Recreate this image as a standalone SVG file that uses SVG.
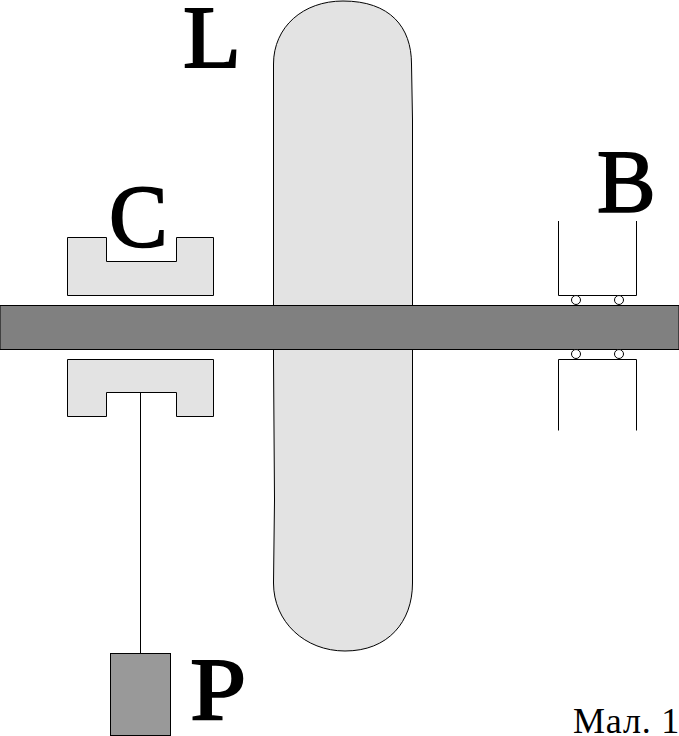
<svg xmlns="http://www.w3.org/2000/svg" width="679" height="736" viewBox="0 0 679 736">
<style>
.s{stroke:#000;stroke-width:1;}
.l{fill:#e3e3e3;}
.n{fill:none;}
.t{font-family:"Liberation Serif","Times New Roman",serif;fill:#000;}
.big{font-size:88px;stroke:#000;stroke-width:1.800;}
</style>
<rect width="679" height="736" fill="#fff"/>
<g id="lens"><path class="s l" d="M273.500 64C273.500 27 303 1 343 1C390 1 411.500 27 411.500 64L412.500 120V583C412.500 622 388 651 345 651C305 651 273.500 622 273.500 583L274.500 500L273.500 360Z"/></g>
<g id="rod"><rect class="s" x="0" y="305.500" width="679" height="44" fill="#808080"/></g>
<g id="clamp-top"><path class="s l" d="M67.500 237.500H106.500V261.500H176.500V237.500H213.500V295.500H67.500Z"/></g>
<g id="clamp-bottom"><path class="s l" d="M67.500 359.500H213.500V416.500H176.500V392.500H106.500V416.500H67.500Z"/></g>
<g id="bearing-top">
<path class="s n" d="M558.500 221V295.500H636.500V221"/>
<circle class="s" cx="576" cy="300" r="4.500" fill="#fff"/>
<circle class="s" cx="619" cy="300" r="4.500" fill="#fff"/>
</g>
<g id="bearing-bottom">
<path class="s n" d="M558.500 430.500V359.500H636.500V430.500"/>
<circle class="s" cx="576" cy="354" r="4.500" fill="#fff"/>
<circle class="s" cx="619" cy="354" r="4.500" fill="#fff"/>
</g>
<g id="connectors"><line class="s" x1="140.500" y1="392.500" x2="140.500" y2="653.500"/></g>
<g id="weight"><rect class="s" x="110.500" y="653.500" width="60" height="82" fill="#999"/></g>
<text class="t big" transform="translate(183 67) scale(1.080 1)">L</text>
<text class="t big" x="109" y="246">C</text>
<text class="t big" x="597" y="211">B</text>
<text class="t big" transform="translate(190 719) scale(1.150 1)">P</text>
<text class="t" x="573" y="733" font-size="36" letter-spacing="0.800">Мал. 1</text>
</svg>
